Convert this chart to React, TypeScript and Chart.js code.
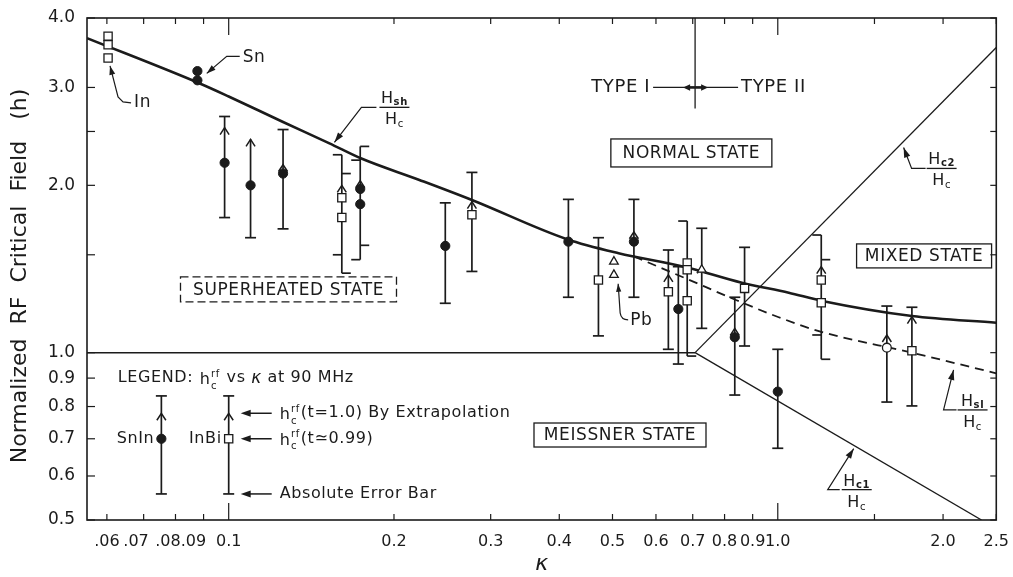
import { useEffect, useRef } from 'react';
import { Chart, registerables } from 'chart.js';

Chart.register(...registerables);

const INK = '#1b1b1b';
const FONT = "'DejaVu Sans', 'Liberation Sans', Arial, sans-serif";

// ---------- axes ----------
const kappaMin = 0.0552;
const kappaMax = 2.5;
const hMin = 0.5;
const hMax = 4.0;

const xTickValues = [0.06, 0.07, 0.08, 0.09, 0.1, 0.2, 0.3, 0.4, 0.5, 0.6, 0.7, 0.8, 0.9, 1.0, 1.5, 2.0, 2.5];
const xTickLabels = ['.06', '.07   ', '.08   ', '.09    ', '0.1', '0.2', '0.3', '0.4', '0.5', '0.6', '0.7', '0.8', '0.9', '1.0', '', '2.0', '2.5'];
const xLongTicks = [0.1, 1.0];
const yTickValues = [0.5, 0.6, 0.7, 0.8, 0.9, 1.0, 1.5, 2.0, 2.5, 3.0, 4.0];
const yTickLabels = ['0.5', '0.6', '0.7', '0.8', '0.9', '1.0', '', '2.0', '', '3.0', '4.0'];

// ---------- theory curves ----------
const hshKappa = [0.0552, 0.0886, 0.1, 0.1256, 0.1526, 0.174, 0.2225, 0.278, 0.413, 0.513, 0.68, 0.86, 1.047, 1.205, 1.755, 2.5];
const hshValue = [3.68, 3.05, 2.89, 2.6, 2.38, 2.237, 2.045, 1.88, 1.6, 1.51, 1.425, 1.336, 1.282, 1.239, 1.164, 1.132];
const hslKappa = [0.547, 0.68, 0.8245, 1.004, 1.2, 1.755, 2.5];
const hslValue = [1.49, 1.36, 1.253, 1.158, 1.09, 1.0, 0.918];
const hcKappa = [0.0552, 0.707];
const hcValue = [1.0, 1.0];
const hc2Kappa = [0.707, 2.5];
const hc2Value = [1.0, 3.54];
const hc1Kappa = [0.707, 2.35];
const hc1Value = [1.0, 0.5];
const typeKappa = [0.707, 0.707];
const typeValue = [4.0, 2.75];

// ---------- measured points ----------
const circleKappa = [0.0877, 0.0877, 0.0983, 0.1096, 0.1256, 0.1736, 0.1736, 0.248, 0.4156, 0.547, 0.659, 0.835, 1.0];
const circleValue = [3.21, 3.09, 2.196, 2.0, 2.1, 1.97, 1.85, 1.556, 1.584, 1.584, 1.198, 1.066, 0.851];
const squareKappa = [0.0603, 0.0603, 0.0603, 0.1607, 0.1607, 0.2773, 0.4714, 0.632, 0.684, 0.684, 0.684, 0.87, 1.2, 1.2, 1.755];
const squareValue = [3.71, 3.58, 3.39, 1.9, 1.75, 1.77, 1.351, 1.287, 1.45, 1.41, 1.24, 1.305, 1.351, 1.23, 1.008];
const ringKappa = [1.58];
const ringValue = [1.021];
const triangleKappa = [0.503, 0.503, 0.727];
const triangleValue = [1.458, 1.38, 1.41];

// ---------- error bars ----------
const barKappa = [0.0983, 0.1096, 0.1256, 0.1607, 0.1736, 0.248, 0.2773, 0.4156, 0.4714, 0.547, 0.632, 0.659, 0.684, 0.727, 0.835, 0.87, 1.0, 1.2, 1.58, 1.755];
const barLow = [1.75, 1.61, 1.67, 1.39, 1.47, 1.227, 1.4, 1.258, 1.072, 1.258, 1.014, 0.954, 0.986, 1.106, 0.839, 1.028, 0.673, 0.973, 0.815, 0.802];
const barHigh = [2.66, 2.42, 2.52, 2.27, 2.35, 1.86, 2.11, 1.887, 1.61, 1.887, 1.53, 1.428, 1.725, 1.674, 1.258, 1.547, 1.014, 1.628, 1.213, 1.207];
const barExtrapolated = [2.54, 2.42, 2.18, 2.0, 2.04, null, 1.87, null, null, 1.65, 1.38, null, null, 1.43, 1.106, null, null, 1.428, 1.076, 1.161];
const barInnerHigh = [null, null, null, 2.1, 2.22, null, null, null, null, null, null, null, null, null, null, null, null, 1.47, null, null];
const barInnerLow = [null, null, null, 1.5, 1.56, null, null, null, null, null, null, null, null, null, null, null, null, 1.076, null, null];
const barBracket = [0, 0, 0, -1, 1, 0, 0, 0, 0, 0, 0, 0, -1, 0, 0, 0, 0, -1, 0, 0];

// ---------- legend samples ----------
const legendNames = ['SnIn', 'InBi'];
const legendKappa = [0.0754, 0.1];
const legendValue = [0.7, 0.7];
const legendLow = [0.557, 0.557];
const legendHigh = [0.836, 0.836];
const legendExtrapolated = [0.778, 0.778];

const pts = (ks: number[], vs: number[]) => ks.map((k, i) => ({ x: k, y: vs[i] }));

function seg(ctx: any, x1: number, y1: number, x2: number, y2: number) {
  ctx.beginPath();
  ctx.moveTo(x1, y1);
  ctx.lineTo(x2, y2);
  ctx.stroke();
}
function poly(ctx: any, p: number[][]) {
  ctx.beginPath();
  ctx.moveTo(p[0][0], p[0][1]);
  for (let i = 1; i < p.length; i++) ctx.lineTo(p[i][0], p[i][1]);
  ctx.stroke();
}
function arrowHead(ctx: any, tx: number, ty: number, fx: number, fy: number, len: number, half: number) {
  const a = Math.atan2(ty - fy, tx - fx);
  const bx = tx - len * Math.cos(a);
  const by = ty - len * Math.sin(a);
  ctx.beginPath();
  ctx.moveTo(tx, ty);
  ctx.lineTo(bx + half * Math.sin(a), by - half * Math.cos(a));
  ctx.lineTo(bx - half * Math.sin(a), by + half * Math.cos(a));
  ctx.closePath();
  ctx.fill();
}
function chevron(ctx: any, x: number, y: number) {
  ctx.save();
  ctx.lineWidth = 1.5;
  poly(ctx, [[x - 4.5, y + 7], [x, y], [x + 4.5, y + 7]]);
  ctx.restore();
}
function text(ctx: any, s: string, x: number, cy: number, size: number, align = 'left', italic = false) {
  ctx.font = `${italic ? 'italic ' : ''}${size}px ${FONT}`;
  ctx.textAlign = align;
  ctx.textBaseline = 'middle';
  ctx.fillText(s, x, cy);
  return x + ctx.measureText(s).width;
}
// draws h with superscript rf and subscript c, baseline-aligned; returns end x
function hcrf(ctx: any, x: number, cy: number, size: number) {
  const base = cy + size * 0.36;
  ctx.textAlign = 'left';
  ctx.textBaseline = 'alphabetic';
  ctx.font = `${size}px ${FONT}`;
  ctx.fillText('h', x, base);
  const w = ctx.measureText('h').width;
  const s = Math.round(size * 0.62);
  ctx.font = `${s}px ${FONT}`;
  ctx.fillText('rf', x + w + 0.5, base - size * 0.45);
  ctx.fillText('c', x + w + 0.5, base + size * 0.3);
  const sw = Math.max(ctx.measureText('rf').width, ctx.measureText('c').width);
  return x + w + sw + 1.5;
}
function frac(ctx: any, cx: number, by: number, sub: string) {
  ctx.save();
  ctx.lineWidth = 1.3;
  seg(ctx, cx - 15, by, cx + 15, by);
  const big = 16;
  const small = 10;
  ctx.textAlign = 'left';
  ctx.textBaseline = 'alphabetic';
  ctx.font = `${big}px ${FONT}`;
  const hw = ctx.measureText('H').width;
  ctx.font = `bold ${small}px ${FONT}`;
  const sw = ctx.measureText(sub).width;
  ctx.font = `${small}px ${FONT}`;
  const cw = ctx.measureText('c').width;
  let x0 = cx - (hw + sw) / 2;
  ctx.font = `${big}px ${FONT}`;
  ctx.fillText('H', x0, by - 4);
  ctx.font = `bold ${small}px ${FONT}`;
  ctx.fillText(sub, x0 + hw, by - 2);
  x0 = cx - (hw + cw) / 2;
  ctx.font = `${big}px ${FONT}`;
  ctx.fillText('H', x0, by + 17);
  ctx.font = `${small}px ${FONT}`;
  ctx.fillText('c', x0 + hw, by + 20);
  ctx.restore();
}
function stateBox(ctx: any, cx: number, cy: number, w: number, h: number, label: string, dashed: boolean) {
  ctx.save();
  ctx.lineWidth = 1.3;
  if (dashed) ctx.setLineDash([8, 4]);
  ctx.strokeRect(cx - w / 2, cy - h / 2, w, h);
  ctx.restore();
  text(ctx, label, cx, cy + 1, 17, 'center');
}

const framePlugin = {
  id: 'frameAndBars',
  beforeDatasetsDraw(chart: any) {
    const ctx = chart.ctx;
    const { left, right, top, bottom } = chart.chartArea;
    const X = (k: number) => chart.scales.x.getPixelForValue(k);
    const Y = (h: number) => chart.scales.y.getPixelForValue(h);
    ctx.save();
    ctx.strokeStyle = INK;
    ctx.fillStyle = INK;
    ctx.lineWidth = 1.6;
    ctx.strokeRect(left, top, right - left, bottom - top);
    ctx.lineWidth = 1.2;
    xTickValues.forEach((v) => {
      const x = X(v);
      const len = xLongTicks.includes(v) ? 17 : 6;
      seg(ctx, x, bottom, x, bottom - len);
      seg(ctx, x, top, x, top + len);
    });
    yTickValues.forEach((v) => {
      const y = Y(v);
      seg(ctx, left, y, left + 8, y);
      seg(ctx, right, y, right - 6, y);
    });

    // error bars
    const drawBar = (k: number, lo: number, hi: number, ext: any, bracket: number, inHi: any, inLo: any) => {
      const x = X(k);
      const yl = Y(lo);
      const yh = Y(hi);
      ctx.lineWidth = 1.7;
      seg(ctx, x, yl, x, yh);
      if (bracket === 0) {
        seg(ctx, x - 5.5, yl, x + 5.5, yl);
        if (ext !== hi) seg(ctx, x - 5.5, yh, x + 5.5, yh);
      } else {
        const L = 9;
        seg(ctx, x, yh, x + bracket * L, yh);
        seg(ctx, x, yl, x - bracket * L, yl);
        if (inHi != null) seg(ctx, x, Y(inHi), x - bracket * L, Y(inHi));
        if (inLo != null) seg(ctx, x, Y(inLo), x + bracket * L, Y(inLo));
      }
      if (ext != null) chevron(ctx, x, Y(ext));
    };
    barKappa.forEach((k, i) =>
      drawBar(k, barLow[i], barHigh[i], barExtrapolated[i], barBracket[i], barInnerHigh[i], barInnerLow[i])
    );
    legendKappa.forEach((k, i) => drawBar(k, legendLow[i], legendHigh[i], legendExtrapolated[i], 0, null, null));
    ctx.restore();
  },
  afterDatasetsDraw(chart: any) {
    const ctx = chart.ctx;
    const X = (k: number) => chart.scales.x.getPixelForValue(k);
    const Y = (h: number) => chart.scales.y.getPixelForValue(h);
    ctx.save();
    ctx.strokeStyle = INK;
    ctx.fillStyle = INK;
    ctx.letterSpacing = '0.6px';
    ctx.lineWidth = 1.2;

    // In label
    {
      const tx = X(0.0608), ty = Y(3.28);
      poly(ctx, [[tx, ty], [tx + 8, ty + 31], [tx + 13, ty + 36], [tx + 21, ty + 37]]);
      arrowHead(ctx, tx, ty, tx + 8, ty + 31, 9, 3);
      text(ctx, 'In', tx + 24, ty + 37, 17);
    }
    // Sn label
    {
      const tx = X(0.0912), ty = Y(3.18);
      poly(ctx, [[tx, ty], [tx + 20, ty - 17], [tx + 33, ty - 17]]);
      arrowHead(ctx, tx, ty, tx + 20, ty - 17, 9, 3);
      text(ctx, 'Sn', tx + 36, ty - 16, 17);
    }
    // Hsh / Hc
    {
      const tx = X(0.1558), ty = Y(2.39);
      poly(ctx, [[tx, ty], [tx + 27, ty - 35], [tx + 42, ty - 35]]);
      arrowHead(ctx, tx, ty, tx + 27, ty - 35, 10, 3.2);
      frac(ctx, tx + 60, ty - 35, 'sh');
    }
    // Hc2 / Hc
    {
      const tx = X(1.695), ty = Y(2.34);
      poly(ctx, [[tx, ty], [tx + 8, ty + 21], [tx + 22, ty + 21]]);
      arrowHead(ctx, tx, ty, tx + 8, ty + 21, 10, 3.2);
      frac(ctx, tx + 38, ty + 21, 'c2');
    }
    // Hsl / Hc
    {
      const tx = X(2.09), ty = Y(0.931);
      poly(ctx, [[tx, ty], [tx - 10, ty + 40], [tx + 3, ty + 40]]);
      arrowHead(ctx, tx, ty, tx - 10, ty + 40, 10, 3.2);
      frac(ctx, tx + 19, ty + 40, 'sl');
    }
    // Hc1 / Hc
    {
      const tx = X(1.375), ty = Y(0.672);
      poly(ctx, [[tx, ty], [tx - 26, ty + 41], [tx - 14, ty + 41]]);
      arrowHead(ctx, tx, ty, tx - 26, ty + 41, 10, 3.2);
      frac(ctx, tx + 3, ty + 41, 'c1');
    }
    // Pb label
    {
      const tx = X(0.512), ty = Y(1.33);
      ctx.beginPath();
      ctx.moveTo(tx, ty);
      ctx.lineTo(tx + 2, ty + 29);
      ctx.quadraticCurveTo(tx + 3, ty + 36, tx + 10, ty + 36);
      ctx.stroke();
      arrowHead(ctx, tx, ty, tx + 2, ty + 29, 8, 2.6);
      text(ctx, 'Pb', tx + 12, ty + 37, 17);
    }
    // TYPE I / TYPE II
    {
      const cx = X(0.707), cy = Y(3.0);
      seg(ctx, cx - 42, cy, cx + 43, cy);
      ctx.lineWidth = 2.6;
      seg(ctx, cx - 6, cy, cx + 7, cy);
      arrowHead(ctx, cx - 12, cy, cx, cy, 7, 3.2);
      arrowHead(ctx, cx + 13, cy, cx, cy, 7, 3.2);
      ctx.lineWidth = 1.2;
      text(ctx, 'TYPE I', cx - 45, cy, 18, 'right');
      text(ctx, 'TYPE II', cx + 46, cy, 18, 'left');
    }
    // state boxes
    stateBox(ctx, X(0.1285), Y(1.3), 216, 25, 'SUPERHEATED STATE', true);
    stateBox(ctx, X(0.696), Y(2.287), 161, 28, 'NORMAL STATE', false);
    stateBox(ctx, X(1.847), Y(1.493), 135, 24, 'MIXED STATE', false);
    stateBox(ctx, X(0.516), Y(0.711), 172, 24, 'MEISSNER STATE', false);

    // legend block
    {
      let x = X(0.0628);
      const cy = Y(0.9);
      x = text(ctx, 'LEGEND: ', x, cy, 16);
      x = hcrf(ctx, x + 1, cy, 16);
      x = text(ctx, ' vs ', x, cy, 16);
      x = text(ctx, 'κ', x, cy, 17, 'left', true);
      text(ctx, ' at 90 MHz', x, cy, 16);

      legendNames.forEach((n, i) => text(ctx, n, X(legendKappa[i]) - 7, Y(legendValue[i]), 16, 'right'));

      const bx = X(legendKappa[1]);
      const rows = [legendExtrapolated[1], legendValue[1], legendLow[1]];
      rows.forEach((v, i) => {
        const y = Y(v);
        ctx.lineWidth = 1.5;
        seg(ctx, bx + 20, y, bx + 43, y);
        arrowHead(ctx, bx + 12, y, bx + 43, y, 10, 3.5);
        const tx = bx + 51;
        if (i === 0) {
          const e = hcrf(ctx, tx, y, 16);
          text(ctx, '(t=1.0) By Extrapolation', e, y, 16);
        } else if (i === 1) {
          const e = hcrf(ctx, tx, y, 16);
          text(ctx, '(t≃0.99)', e, y, 16);
        } else {
          text(ctx, 'Absolute Error Bar', tx, y, 16);
        }
      });
    }
    ctx.restore();
  },
};

export default function App() {
  const ref = useRef<HTMLCanvasElement>(null);
  useEffect(() => {
    const lineBase = { type: 'line', pointRadius: 0, fill: false, showLine: true, borderColor: INK };
    const chart = new Chart(ref.current as HTMLCanvasElement, {
      type: 'scatter',
      data: {
        datasets: [
          { label: 'Filled circles', data: pts(circleKappa, circleValue), pointStyle: 'circle', pointRadius: 4.6, backgroundColor: INK, borderColor: INK, borderWidth: 1 },
          { label: 'Open squares', data: pts(squareKappa, squareValue), pointStyle: 'rect', pointRadius: 5.8, backgroundColor: '#ffffff', borderColor: INK, borderWidth: 1.3 },
          { label: 'Open circle', data: pts(ringKappa, ringValue), pointStyle: 'circle', pointRadius: 4.4, backgroundColor: '#ffffff', borderColor: INK, borderWidth: 1.3 },
          { label: 'Pb triangles', data: pts(triangleKappa, triangleValue), pointStyle: 'triangle', pointRadius: 5, backgroundColor: '#ffffff', borderColor: INK, borderWidth: 1.3 },
          { label: 'SnIn', data: [{ x: legendKappa[0], y: legendValue[0] }], pointStyle: 'circle', pointRadius: 4.6, backgroundColor: INK, borderColor: INK, borderWidth: 1 },
          { label: 'InBi', data: [{ x: legendKappa[1], y: legendValue[1] }], pointStyle: 'rect', pointRadius: 5.8, backgroundColor: '#ffffff', borderColor: INK, borderWidth: 1.3 },
          { ...lineBase, label: 'Hsh/Hc', data: pts(hshKappa, hshValue), borderWidth: 2.6, cubicInterpolationMode: 'monotone' },
          { ...lineBase, label: 'Hsl/Hc', data: pts(hslKappa, hslValue), borderWidth: 1.8, borderDash: [9, 6], cubicInterpolationMode: 'monotone' },
          { ...lineBase, label: 'Hc', data: pts(hcKappa, hcValue), borderWidth: 1.5 },
          { ...lineBase, label: 'Hc2/Hc', data: pts(hc2Kappa, hc2Value), borderWidth: 1.3 },
          { ...lineBase, label: 'Hc1/Hc', data: pts(hc1Kappa, hc1Value), borderWidth: 1.3 },
          { ...lineBase, label: 'Type boundary', data: pts(typeKappa, typeValue), borderWidth: 1.3 },
        ] as any,
      },
      options: {
        animation: false,
        responsive: false,
        events: [],
        layout: { padding: { top: 18, right: 15, left: 0, bottom: 0 } },
        plugins: { legend: { display: false }, tooltip: { enabled: false } },
        scales: {
          x: {
            type: 'logarithmic',
            min: kappaMin,
            max: kappaMax,
            afterBuildTicks: (s: any) => {
              s.ticks = xTickValues.map((v) => ({ value: v }));
            },
            afterFit: (s: any) => {
              s.height = 57;
            },
            grid: { display: false },
            border: { display: false },
            ticks: {
              autoSkip: false,
              maxRotation: 0,
              minRotation: 0,
              padding: 4,
              color: INK,
              font: { family: FONT, size: 16 },
              callback: (_v: any, i: number) => xTickLabels[i],
            },
            title: { display: true, text: 'κ', color: INK, font: { family: FONT, size: 22, style: 'italic' }, padding: 0 },
          },
          y: {
            type: 'logarithmic',
            min: hMin,
            max: hMax,
            afterBuildTicks: (s: any) => {
              s.ticks = yTickValues.map((v) => ({ value: v }));
            },
            afterFit: (s: any) => {
              s.width = 87;
            },
            grid: { display: false },
            border: { display: false },
            ticks: {
              autoSkip: false,
              padding: 4,
              color: INK,
              font: { family: FONT, size: 17 },
              callback: (_v: any, i: number) => yTickLabels[i],
            },
            title: {
              display: true,
              text: 'Normalized  RF  Critical  Field   (h)  ',
              color: INK,
              font: { family: FONT, size: 22 },
              padding: { top: 7, bottom: 0 },
            },
          },
        },
      } as any,
      plugins: [framePlugin as any],
    });
    return () => chart.destroy();
  }, []);
  return (
    <div style={{ position: 'absolute', left: 0, top: 0, width: 1013, height: 577, background: '#ffffff' }}>
      <canvas ref={ref} width={1013} height={577} style={{ display: 'block', width: 1013, height: 577 }} />
    </div>
  );
}
